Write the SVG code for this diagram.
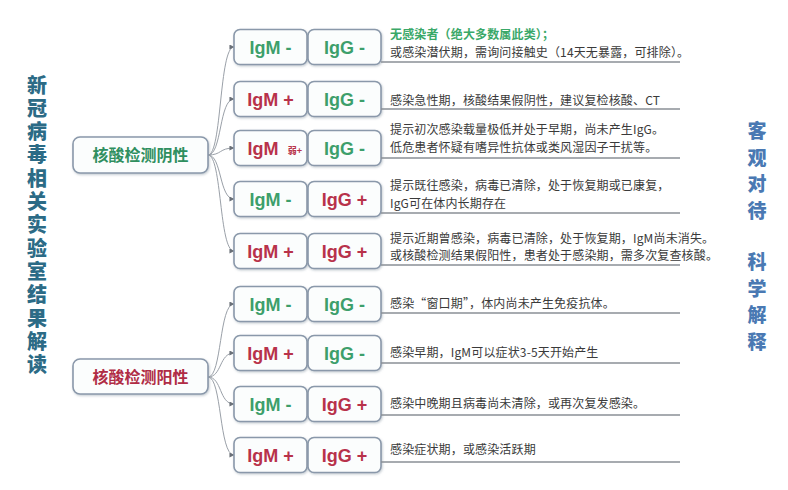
<svg xmlns="http://www.w3.org/2000/svg" width="788" height="490" viewBox="0 0 788 490">
<defs>
<marker id="arr" viewBox="0 0 6 6" refX="5.5" refY="3" markerWidth="5" markerHeight="5" orient="auto" markerUnits="userSpaceOnUse">
<path d="M0,0 L6,3 L0,6 z" fill="#6a7078"/>
</marker>
<filter id="sh" x="-10%" y="-10%" width="125%" height="130%">
<feDropShadow dx="0.8" dy="1.2" stdDeviation="1" flood-color="#7f8d9c" flood-opacity="0.45"/>
</filter>
</defs>
<style>
.box{fill:#fbfdfd;stroke:#8a98aa;stroke-width:1.6;filter:url(#sh)}
.lab{font-family:"Liberation Sans","Noto Sans CJK SC",sans-serif;font-weight:bold;font-size:18px;text-anchor:middle}
.neg{fill:#3d9f6b}
.pos{fill:#b8324a}
.desc{font-family:"Noto Sans CJK SC","Liberation Sans",sans-serif;font-size:12px;letter-spacing:0.15px;fill:#3a3a3a}
.hl{fill:#3aa868;font-weight:bold}
.ul{stroke:#8a8f96;stroke-width:1.5;fill:none}
.con{stroke:#9aa0a8;stroke-width:1;fill:none;marker-end:url(#arr)}
.title{font-family:"Noto Sans CJK SC",sans-serif;font-weight:900;writing-mode:vertical-rl;text-anchor:start}
.node{font-family:"Noto Sans CJK SC",sans-serif;font-weight:bold;font-size:16px;text-anchor:middle}
</style>
<rect width="788" height="490" fill="#ffffff"/>

<g id="left-title">
<text class="title" x="37" y="75" font-size="20" letter-spacing="3.3" fill="#2c6b86">新冠病毒相关实验室结果解读</text>
</g>
<g id="right-title">
<text class="title" x="757" y="121.5" font-size="19" letter-spacing="7.5" fill="#4a79b3">客观对待</text>
<text class="title" x="757" y="252.5" font-size="19" letter-spacing="7.5" fill="#4a79b3">科学解释</text>
</g>

<g id="connectors">
<path class="con" d="M208,155 C222,155 219,47 234,47"/>
<path class="con" d="M208,155 C222,155 219,99 234,99"/>
<path class="con" d="M208,155 C222,155 219,148 234,148"/>
<path class="con" d="M208,155 C222,155 219,199 234,199"/>
<path class="con" d="M208,155 C222,155 219,251 234,251"/>
<path class="con" d="M208,377 C222,377 219,304 234,304"/>
<path class="con" d="M208,377 C222,377 219,353 234,353"/>
<path class="con" d="M208,377 C222,377 219,404 234,404"/>
<path class="con" d="M208,377 C222,377 219,455 234,455"/>
</g>

<g id="nat-negative">
<rect class="box" x="73" y="137" width="135" height="36" rx="7"/>
<text class="node" x="140.5" y="161" fill="#2f8f5f">核酸检测阴性</text>
</g>
<g id="nat-positive">
<rect class="box" x="73" y="359" width="135" height="35" rx="7"/>
<text class="node" x="140.5" y="382.5" fill="#b02c45">核酸检测阳性</text>
</g>

<g id="row1">
<rect class="box" x="234" y="29.5" width="73" height="35" rx="6"/><rect class="box" x="308" y="29.5" width="73" height="35" rx="6"/>
<text class="lab neg" x="270.5" y="53.5">IgM -</text><text class="lab neg" x="344.5" y="53.5">IgG -</text>
<path class="ul" d="M381,62 H680"/>
<text class="desc"><tspan class="hl" x="390" y="38.5">无感染者（绝大多数属此类）；</tspan><tspan x="390" y="56.5">或感染潜伏期，需询问接触史（14天无暴露，可排除）。</tspan></text>
</g>
<g id="row2">
<rect class="box" x="234" y="81.5" width="73" height="35" rx="6"/><rect class="box" x="308" y="81.5" width="73" height="35" rx="6"/>
<text class="lab pos" x="270.5" y="105.5">IgM +</text><text class="lab neg" x="344.5" y="105.5">IgG -</text>
<path class="ul" d="M381,109 H680"/>
<text class="desc" x="390" y="104.5">感染急性期，核酸结果假阴性，建议复检核酸、CT</text>
</g>
<g id="row3">
<rect class="box" x="234" y="130.5" width="73" height="35" rx="6"/><rect class="box" x="308" y="130.5" width="73" height="35" rx="6"/>
<text class="lab pos" x="263" y="154.5">IgM</text><text x="295" y="154" font-family="Noto Sans CJK SC,sans-serif" font-weight="bold" font-size="9" fill="#b8324a" text-anchor="middle">弱+</text>
<text class="lab neg" x="344.5" y="154.5">IgG -</text>
<path class="ul" d="M381,158 H680"/>
<text class="desc"><tspan x="390" y="134">提示初次感染载量极低并处于早期，尚未产生IgG。</tspan><tspan x="390" y="151.5">低危患者怀疑有嗜异性抗体或类风湿因子干扰等。</tspan></text>
</g>
<g id="row4">
<rect class="box" x="234" y="181.5" width="73" height="35" rx="6"/><rect class="box" x="308" y="181.5" width="73" height="35" rx="6"/>
<text class="lab neg" x="270.5" y="205.5">IgM -</text><text class="lab pos" x="344.5" y="205.5">IgG +</text>
<path class="ul" d="M381,213 H680"/>
<text class="desc"><tspan x="390" y="190">提示既往感染，病毒已清除，处于恢复期或已康复，</tspan><tspan x="390" y="207.5">IgG可在体内长期存在</tspan></text>
</g>
<g id="row5">
<rect class="box" x="234" y="233.5" width="73" height="35" rx="6"/><rect class="box" x="308" y="233.5" width="73" height="35" rx="6"/>
<text class="lab pos" x="270.5" y="257.5">IgM +</text><text class="lab pos" x="344.5" y="257.5">IgG +</text>
<path class="ul" d="M381,265 H680"/>
<text class="desc"><tspan x="390" y="242.5">提示近期曾感染，病毒已清除，处于恢复期，IgM尚未消失。</tspan><tspan x="390" y="260">或核酸检测结果假阳性，患者处于感染期，需多次复查核酸。</tspan></text>
</g>
<g id="row6">
<rect class="box" x="234" y="286.5" width="73" height="35" rx="6"/><rect class="box" x="308" y="286.5" width="73" height="35" rx="6"/>
<text class="lab neg" x="270.5" y="310.5">IgM -</text><text class="lab neg" x="344.5" y="310.5">IgG -</text>
<path class="ul" d="M381,313 H680"/>
<text class="desc" x="390" y="307.5">感染“窗口期”，体内尚未产生免疫抗体。</text>
</g>
<g id="row7">
<rect class="box" x="234" y="335.5" width="73" height="35" rx="6"/><rect class="box" x="308" y="335.5" width="73" height="35" rx="6"/>
<text class="lab pos" x="270.5" y="359.5">IgM +</text><text class="lab neg" x="344.5" y="359.5">IgG -</text>
<path class="ul" d="M381,363 H680"/>
<text class="desc" x="390" y="357">感染早期，IgM可以症状3-5天开始产生</text>
</g>
<g id="row8">
<rect class="box" x="234" y="386.5" width="73" height="35" rx="6"/><rect class="box" x="308" y="386.5" width="73" height="35" rx="6"/>
<text class="lab neg" x="270.5" y="410.5">IgM -</text><text class="lab pos" x="344.5" y="410.5">IgG +</text>
<path class="ul" d="M381,415 H680"/>
<text class="desc" x="390" y="408">感染中晚期且病毒尚未清除，或再次复发感染。</text>
</g>
<g id="row9">
<rect class="box" x="234" y="437.5" width="73" height="35" rx="6"/><rect class="box" x="308" y="437.5" width="73" height="35" rx="6"/>
<text class="lab pos" x="270.5" y="461.5">IgM +</text><text class="lab pos" x="344.5" y="461.5">IgG +</text>
<path class="ul" d="M381,462 H680"/>
<text class="desc" x="390" y="454">感染症状期，或感染活跃期</text>
</g>
</svg>
